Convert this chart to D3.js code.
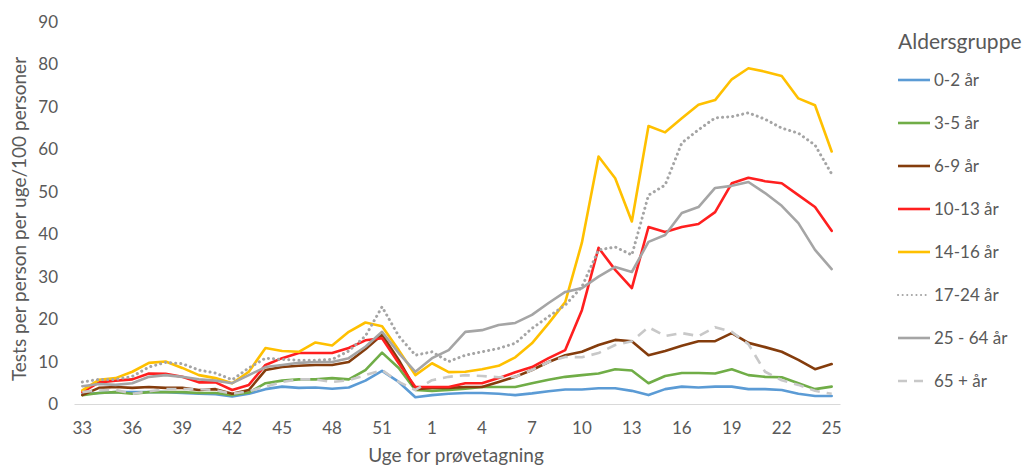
<!DOCTYPE html>
<html>
<head>
<meta charset="utf-8">
<script src="https://cdn.jsdelivr.net/npm/d3@7"></script>
<style>
  body { margin: 0; background: #fff; }
  text { font-family: Lato, 'Open Sans', sans-serif; fill: #595959; }
</style>
</head>
<body>
<div class="canvas"></div>
<script>
// DATA
const weeks = [33, 34, 35, 36, 37, 38, 39, 40, 41, 42, 43, 44, 45, 46, 47, 48, 49, 50, 51, 52, 53,
  1, 2, 3, 4, 5, 6, 7, 8, 9, 10, 11, 12, 13, 14, 15, 16, 17, 18, 19, 20, 21, 22, 23, 24, 25];
const tickWeeks = [33, 36, 39, 42, 45, 48, 51, 1, 4, 7, 10, 13, 16, 19, 22, 25];
const yTicks = [0, 10, 20, 30, 40, 50, 60, 70, 80, 90];

const age0_2 = [2.3, 2.6, 2.8, 2.8, 2.8, 2.8, 2.6, 2.4, 2.3, 1.8, 2.4, 3.5, 4.1, 3.8, 3.9, 3.6, 3.9, 5.5, 7.8, 5.2, 1.6,
  2.1, 2.4, 2.6, 2.6, 2.4, 2.1, 2.5, 3.0, 3.4, 3.4, 3.7, 3.7, 3.1, 2.1, 3.5, 4.1, 3.9, 4.1, 4.1, 3.5, 3.5, 3.3, 2.4, 1.9, 1.9];
const age3_5 = [2.1, 2.6, 2.8, 2.4, 2.8, 2.8, 2.8, 2.6, 2.6, 2.1, 2.7, 4.9, 5.5, 5.8, 5.8, 6.1, 5.8, 8.0, 12.1, 8.5, 3.3,
  3.1, 3.3, 3.6, 4.0, 4.0, 4.0, 4.9, 5.7, 6.4, 6.8, 7.2, 8.2, 7.9, 4.9, 6.6, 7.3, 7.3, 7.2, 8.2, 6.8, 6.4, 6.3, 4.9, 3.5, 4.1];
const age6_9 = [2.1, 3.8, 4.0, 3.8, 4.0, 3.8, 3.8, 3.3, 3.5, 2.4, 3.3, 8.0, 8.7, 9.0, 9.2, 9.2, 9.9, 12.9, 16.3, 10.4, 3.5,
  3.8, 3.8, 4.0, 4.0, 5.2, 6.4, 8.0, 9.9, 11.5, 12.3, 13.9, 15.1, 14.8, 11.5, 12.5, 13.7, 14.8, 14.8, 16.7, 14.4, 13.4, 12.3, 10.4, 8.2, 9.4];
const age10_13 = [2.8, 5.1, 5.5, 5.8, 7.2, 7.1, 6.4, 5.1, 5.1, 3.3, 4.5, 9.2, 10.8, 12.0, 12.0, 12.0, 13.2, 15.0, 15.5, 9.6, 4.0,
  4.0, 4.0, 4.9, 4.9, 6.1, 7.5, 8.7, 10.8, 12.7, 22.1, 36.8, 31.6, 27.3, 41.7, 40.5, 41.7, 42.4, 45.2, 52.0, 53.3, 52.5, 52.0, 49.2, 46.4, 40.8];
const age14_16 = [3.2, 5.7, 6.1, 7.6, 9.7, 10.0, 8.5, 6.8, 6.1, 4.9, 7.6, 13.2, 12.5, 12.3, 14.5, 13.8, 17.0, 19.2, 18.3, 12.7, 6.8,
  9.6, 7.5, 7.6, 8.2, 9.0, 11.0, 14.3, 19.0, 24.0, 38.0, 58.3, 53.2, 43.0, 65.5, 64.0, 67.3, 70.5, 71.6, 76.5, 79.1, 78.3, 77.3, 72.0, 70.4, 59.5];
const age17_24 = [5.2, 5.8, 5.8, 6.5, 8.7, 9.8, 9.5, 8.0, 7.3, 5.7, 8.5, 10.8, 10.5, 10.3, 10.3, 10.5, 12.5, 16.0, 22.9, 16.0, 11.5,
  12.3, 10.0, 11.5, 12.3, 13.1, 14.3, 17.8, 20.6, 23.3, 27.6, 36.3, 37.0, 35.1, 49.2, 51.6, 61.5, 64.6, 67.4, 67.7, 68.6, 67.1, 65.0, 63.8, 61.0, 54.2];
const age25_64 = [4.2, 4.7, 4.5, 4.9, 6.4, 6.8, 6.4, 5.8, 5.5, 4.9, 6.8, 8.7, 9.2, 9.7, 9.9, 9.9, 10.8, 13.5, 17.0, 12.0, 7.6,
  10.8, 12.7, 17.0, 17.4, 18.6, 19.1, 21.0, 23.8, 26.4, 27.3, 30.0, 32.3, 31.1, 38.2, 39.8, 45.0, 46.4, 50.9, 51.4, 52.3, 49.7, 46.7, 42.6, 36.3, 31.8];
const age65 = [2.8, 3.3, 3.3, 2.4, 3.0, 3.5, 3.5, 3.5, 3.3, 2.4, 3.0, 4.1, 5.2, 5.8, 5.8, 5.2, 5.6, 6.8, 8.0, 5.2, 3.3,
  5.6, 6.4, 6.8, 6.6, 6.3, 6.4, 8.0, 9.9, 11.1, 11.0, 12.0, 13.9, 14.8, 18.1, 16.0, 16.7, 16.0, 18.1, 17.0, 14.1, 7.6, 5.6, 4.5, 3.1, 2.4];

const seriesNames = ['0-2 år', '3-5 år', '6-9 år', '10-13 år', '14-16 år', '17-24 år', '25 - 64 år', '65 + år'];
const seriesValues = [age0_2, age3_5, age6_9, age10_13, age14_16, age17_24, age25_64, age65];

// STYLES
const styles = [
  { color: '#5B9BD5', dash: null, cap: 'round' },
  { color: '#70AD47', dash: null, cap: 'round' },
  { color: '#843C0C', dash: null, cap: 'round' },
  { color: '#FF1F1F', dash: null, cap: 'round' },
  { color: '#FFC000', dash: null, cap: 'round' },
  { color: '#A5A5A5', dash: '0.1 5', cap: 'round' },
  { color: '#A5A5A5', dash: null, cap: 'round' },
  { color: '#C8C8C8', dash: '10 7', cap: 'butt' }
];

const dims = { width: 1026, height: 468 };
const plot = { left: 74, right: 840, top: 22, bottom: 404 };

const svg = d3
  .select('.canvas')
  .append('svg')
  .attr('width', dims.width)
  .attr('height', dims.height);

const x = d3
  .scaleBand()
  .domain(d3.range(weeks.length))
  .range([plot.left, plot.right]);

const y = d3
  .scaleLinear()
  .domain([0, 90])
  .range([plot.bottom, plot.top]);

// Y AXIS
const yAxis = d3.axisLeft(y).tickValues(yTicks).tickSize(0).tickPadding(0);
const yG = svg
  .append('g')
  .attr('transform', `translate(${plot.left - 16}, 0)`)
  .call(yAxis);
yG.select('.domain').remove();
yG.selectAll('text').style('font-size', '17px').attr('fill', '#595959');

// X AXIS
const xAxis = d3
  .axisBottom(x)
  .tickValues(tickWeeks.map((w) => weeks.indexOf(w, w < 33 ? 21 : 0)))
  .tickFormat((i) => weeks[i])
  .tickSize(0)
  .tickPadding(18);
const xG = svg
  .append('g')
  .attr('transform', `translate(0, ${plot.bottom})`)
  .call(xAxis);
xG.select('.domain').attr('stroke', '#D9D9D9').attr('stroke-width', 1);
xG.selectAll('text').style('font-size', '17px').attr('fill', '#595959');

// AXIS TITLES
svg
  .append('text')
  .attr('transform', `translate(26, ${(plot.top + plot.bottom) / 2 + 6}) rotate(-90)`)
  .attr('text-anchor', 'middle')
  .style('font-size', '19px')
  .text('Tests per person per uge/100 personer');

svg
  .append('text')
  .attr('x', 456)
  .attr('y', 462)
  .attr('text-anchor', 'middle')
  .style('font-size', '19px')
  .text('Uge for prøvetagning');

// LINES
const line = d3
  .line()
  .x((d, i) => x(i) + x.bandwidth() / 2)
  .y((d) => y(d));

svg
  .append('g')
  .selectAll('path')
  .data(seriesValues)
  .enter()
  .append('path')
  .attr('d', line)
  .attr('fill', 'none')
  .attr('stroke', (d, i) => styles[i].color)
  .attr('stroke-width', (d, i) => (i === 5 ? 3 : 2.6))
  .attr('stroke-dasharray', (d, i) => styles[i].dash)
  .attr('stroke-linecap', (d, i) => styles[i].cap)
  .attr('stroke-linejoin', 'round');

// LEGEND
const legendGroup = svg.append('g').attr('transform', 'translate(898, 0)');

legendGroup
  .append('text')
  .attr('x', 0)
  .attr('y', 49)
  .style('font-size', '21px')
  .text('Aldersgruppe');

const items = legendGroup
  .selectAll('.item')
  .data(seriesNames)
  .enter()
  .append('g')
  .attr('class', 'item')
  .attr('transform', (d, i) => `translate(0, ${80 + i * 43})`);

items
  .append('line')
  .attr('x1', 0)
  .attr('x2', 32)
  .attr('stroke', (d, i) => styles[i].color)
  .attr('stroke-width', (d, i) => (i === 5 ? 2 : 2.6))
  .attr('stroke-dasharray', (d, i) => (i === 5 ? '0.1 4.5' : i === 7 ? '9 7' : null))
  .attr('stroke-linecap', (d, i) => (i === 5 ? 'round' : 'butt'));

items
  .append('text')
  .attr('x', 36)
  .attr('y', 6)
  .style('font-size', '17px')
  .text((d) => d);
</script>
</body>
</html>
